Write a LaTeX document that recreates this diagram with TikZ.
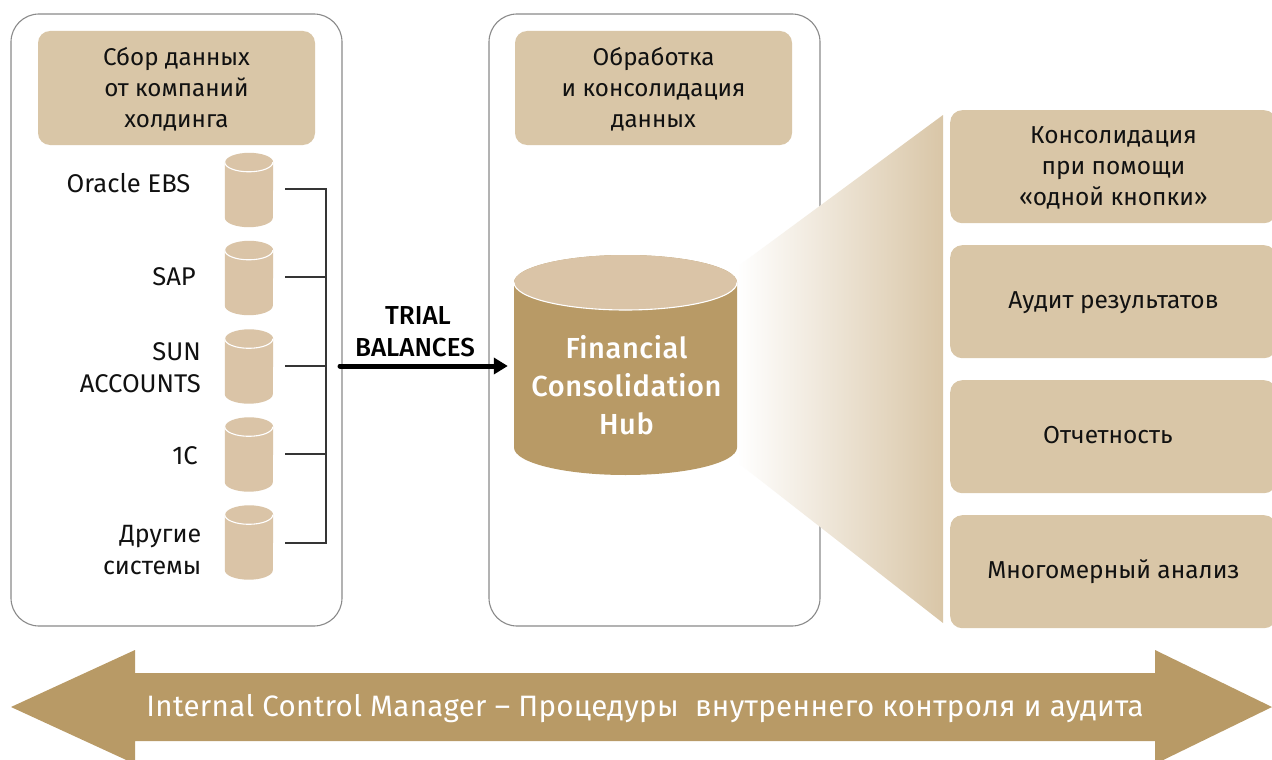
\documentclass[tikz,border=0pt]{standalone}
\usepackage{fontspec}
\setmainfont{Fira Sans}
\newfontfamily\widefont[LetterSpace=2]{Fira Sans Medium}
\newfontfamily\medfont{Fira Sans Medium}
\newfontfamily\ctlfont[LetterSpace=1.2]{Fira Sans}
\usetikzlibrary{arrows.meta,calc}
\definecolor{sand}{HTML}{D9C6A7}
\definecolor{cylsand}{HTML}{DAC4A7}
\definecolor{gold}{HTML}{B89A66}
\definecolor{edgegray}{HTML}{8A8A8A}
\definecolor{ink}{HTML}{111111}
\tikzset{
  panel/.style={draw=edgegray,line width=1.1pt,rounded corners=28pt,fill=white,minimum width=331pt,minimum height=612pt,inner sep=0pt},
  sandbox/.style={fill=sand,rounded corners=12pt,inner sep=0pt,align=center,text=ink,font=\fontsize{24.2}{31}\selectfont},
  rightbox/.style={fill=sand,rounded corners=12pt,inner sep=0pt,anchor=north west,minimum width=326pt,minimum height=113pt},
  righttext/.style={align=center,text=ink,inner sep=0pt,font=\fontsize{24.5}{31}\selectfont},
  label/.style={align=right,anchor=east,text=ink,inner sep=0pt,font=\fontsize{25}{32}\selectfont},
  latinlabel/.style={label,font=\fontsize{25.6}{32}\selectfont},
  cylslot/.style={minimum width=48pt,minimum height=74pt,inner sep=0pt},
  wire/.style={draw=ink!85,line width=1.8pt},
  bigarrow/.style={-{Triangle[length=14pt,width=16pt]},draw=black,line width=5pt,line cap=round},
}
\newcommand{\smallcyl}[3]{%
  \node[cylslot] (#1) at (#2,#3) {};
  \fill[cylsand] ($(#1.north west)+(0,9.5)$) -- ($(#1.south west)+(0,-9.5)$) arc[start angle=180,end angle=0,x radius=24,y radius=9.5] -- ($(#1.north east)+(0,9.5)$) arc[start angle=0,end angle=-180,x radius=24,y radius=9.5] -- cycle;
  \draw[white,line width=1.1pt] ($(#1.north west)+(0,9.5)$) arc[start angle=180,end angle=0,x radius=24,y radius=9.5];
}
\begin{document}
\begin{tikzpicture}[x=1pt,y=-1pt]
\useasboundingbox (0,0) rectangle (1272,760);
\clip (0,0) rectangle (1272,760);
% panels
\node[panel] (left) at (176.5,320) {};
\node[panel] (mid) at (654.5,320) {};
% funnel
\shade[left color=white,right color=sand,shading angle=90] (737,267) -- (943,115) -- (943,623) -- (737,462) -- cycle;
% headers
\node[sandbox,minimum width=277pt,minimum height=114pt] (h1) at (176.5,88) {};
\node[sandbox,minimum width=277pt,minimum height=114pt] (h2) at (653.5,88) {};
\node[align=center,text=ink,inner sep=0pt,font=\fontsize{24.2}{31}\selectfont] (ht1) at (176.5,89.5) {Сбор данных\\от компаний\\холдинга};
\node[align=center,text=ink,inner sep=0pt,font=\fontsize{24.2}{31}\selectfont] (ht2) at (653.5,89.5) {Обработка\\и консолидация\\данных};
% small cylinders
\smallcyl{c1}{249}{190}
\smallcyl{c2}{249}{278}
\smallcyl{c3}{249}{366.5}
\smallcyl{c4}{249}{454.5}
\smallcyl{c5}{249}{542.5}
% labels
\node[latinlabel] (l1) at (190.5,183.5) {Oracle EBS};
\node[latinlabel] (l2) at (196,276.5) {SAP};
\node[latinlabel] (l3) at (201,368) {SUN\\ACCOUNTS};
\node[latinlabel] (l4) at (198,456) {1C};
\node[label] (l5) at (201.5,550) {Другие\\системы};
% bus
\coordinate (b1) at (326,189);
\coordinate (b2) at (326,277);
\coordinate (b3) at (326,366);
\coordinate (b4) at (326,454);
\coordinate (b5) at (326,543);
\draw[wire] ([xshift=12pt]c1.east |- b1) -- (b1) -- (b5) -- ([xshift=12pt]c5.east |- b5);
\draw[wire] ([xshift=12pt]c2.east |- b2) -- (b2);
\draw[wire] ([xshift=12pt]c3.east |- b3) -- (b3);
\draw[wire] ([xshift=12pt]c4.east |- b4) -- (b4);
% hub cylinder
\node[minimum width=223pt,minimum height=220pt,inner sep=0pt] (hub) at (625.5,365) {};
\fill[gold] (514,282.5) -- (514,447.5) arc[start angle=180,end angle=0,x radius=111.5,y radius=27.5] -- (737,282.5) arc[start angle=0,end angle=-180,x radius=111.5,y radius=27.5] -- cycle;
\fill[cylsand] (625.5,282.5) ellipse[x radius=111.5,y radius=27.5];
\draw[white,line width=1.1pt] (514,282.5) arc[start angle=180,end angle=0,x radius=111.5,y radius=27.5];
\node[align=center,text=white,inner sep=0pt,font=\widefont\fontsize{29}{38}\selectfont] (hubt) at (626.5,385.5) {Financial\\Consolidation\\Hub};
% main arrow
\coordinate (tb) at (340,366);
\draw[bigarrow] (tb) -- ([xshift=-6pt]hub.west |- tb);
\node[align=center,text=black,inner sep=0pt,font=\medfont\fontsize{26}{32}\selectfont] (tbl) at (415,332) {\hspace*{6pt}TRIAL\\BALANCES};
% right boxes
\node[rightbox] (r1) at (950,110) {};
\node[rightbox] (r2) at (950,245) {};
\node[rightbox] (r3) at (950,380) {};
\node[rightbox] (r4) at (950,515) {};
\node[righttext] (rt1) at (1113.5,168) {Консолидация\\при помощи\\«одной кнопки»};
\node[righttext] (rt2) at (1113.5,302.5) {Аудит результатов};
\node[righttext] (rt3) at (1108,435.5) {Отчетность};
\node[righttext] (rt4) at (1113.5,572) {Многомерный анализ};
% bottom arrow
\fill[gold] (11,707) -- (135,650) -- (135,673) -- (1155,673) -- (1155,650) -- (1272,707) -- (1155,764) -- (1155,741) -- (135,741) -- (135,764) -- cycle;
\node[text=white,inner sep=0pt,font=\ctlfont\fontsize{29.5}{32}\selectfont] (ctl) at (645,709) {Internal Control Manager – Процедуры\ \ внутреннего контроля и аудита};
\end{tikzpicture}
\end{document}
